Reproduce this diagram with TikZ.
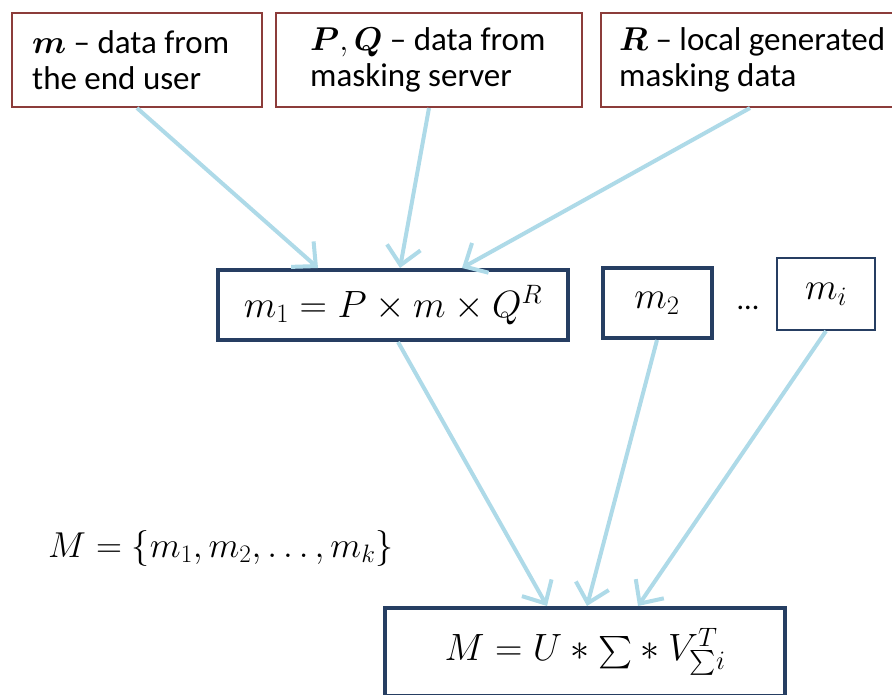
\RequirePackage{fix-cm}
\documentclass[tikz,border=0pt]{standalone}
\usepackage{amsmath}
\usepackage{graphicx}
\usepackage{fontspec}
\setmainfont{Carlito}
\usetikzlibrary{arrows.meta}
\definecolor{srcborder}{RGB}{140,60,58}
\definecolor{navy}{RGB}{38,62,98}
\definecolor{flow}{RGB}{174,218,232}
\newcommand{\bigsigma}{\mathord{\raisebox{-0.12em}{\scalebox{1.3}{$\sum$}}}}
\tikzset{
  srcbox/.style={draw=srcborder, line width=2pt, rectangle, inner sep=0pt},
  srctext/.style={anchor=west, align=left, inner sep=0pt,
    font=\fontsize{33}{36}\selectfont},
  mathfont/.style={font=\fontsize{38}{44}\selectfont},
  mbox/.style={draw=navy, line width=4pt, rectangle, inner sep=0pt, mathfont},
  mboxthin/.style={draw=navy, line width=2pt, rectangle, inner sep=0pt, mathfont},
  flowarrow/.style={draw=flow, line width=4pt,
    -{Straight Barb[length=18pt,width=34pt,line width=4pt]}},
}
\begin{document}
\begin{tikzpicture}[x=1pt,y=-1pt]
\useasboundingbox (0,0) rectangle (892,695);

% source boxes
\node[srcbox, minimum width=250pt, minimum height=94pt] (b1) at (137,60) {};
\node[srcbox, minimum width=306pt, minimum height=94pt] (b2) at (429,60) {};
\node[srcbox, minimum width=298pt, minimum height=94pt] (b3) at (750,60) {};
\node[srctext] (t1) at (32,60) {$\boldsymbol{m}$ -- data from\\the end user};
\node[srctext] (t2) at (310,60) {$\boldsymbol{P},\boldsymbol{Q}$ -- data from\\masking server};
\node[srctext] (t3) at (619,60) {$\boldsymbol{R}$ -- local generated\\masking data};

% masked pieces
\node[mbox, minimum width=350pt, minimum height=70pt] (m1) at (393,305) {$m_1 = P\times m\times Q^R$};
\node[mbox, minimum width=109pt, minimum height=70pt] (m2) at (657,303) {$m_2$};
\node[font=\fontsize{30}{36}\selectfont, inner sep=0pt] (dots) at (748,308) {...};
\node[mboxthin, minimum width=98pt, minimum height=72pt] (mi) at (826,294) {$m_i$};

% set of pieces
\node[anchor=west, inner sep=0pt, font=\fontsize{36}{42}\selectfont] (set) at (48,548)
  {$M=\{m_1,m_2,\ldots,m_k\}$};

% decomposition
\node[mbox, minimum width=400pt, minimum height=88pt] (svd) at (585,652)
  {$M = U * \bigsigma * V_{\mathord{\sum} i}^{T}$};

% connectors
\draw[flowarrow] (b1.south) -- ([xshift=-75pt]m1.north);
\draw[flowarrow] (b2.south) -- ([xshift=7pt]m1.north);
\draw[flowarrow] (b3.south) -- ([xshift=69pt]m1.north);
\draw[flowarrow] ([xshift=5pt]m1.south) -- ([xshift=-38pt]svd.north);
\draw[flowarrow] (m2.south) -- ([xshift=2pt]svd.north);
\draw[flowarrow] (mi.south) -- ([xshift=53pt]svd.north);
\end{tikzpicture}
\end{document}
